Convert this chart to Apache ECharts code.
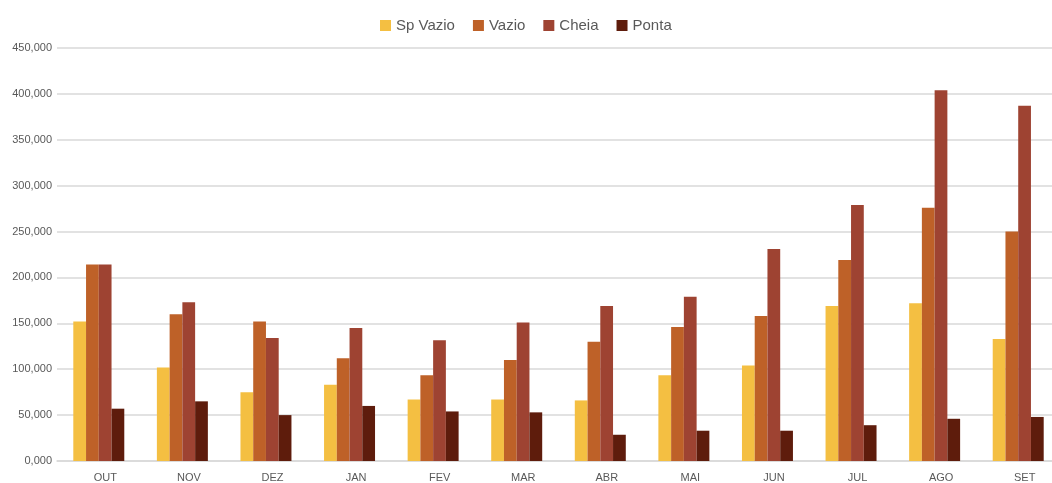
<!DOCTYPE html>
<html>
<head>
<meta charset="utf-8">
<script src="https://cdn.jsdelivr.net/npm/echarts@6/dist/echarts.min.js"></script>
<style>
html,body{margin:0;padding:0;background:#fff;overflow:hidden;width:1052px;height:483px;}
#chart{width:1072px;height:483px;}
</style>
</head>
<body>
<div id="chart"></div>
<script>
const categories = ['OUT','NOV','DEZ','JAN','FEV','MAR','ABR','MAI','JUN','JUL','AGO','SET'];
const seriesNames = ['Sp Vazio','Vazio','Cheia','Ponta'];
const spVazio = [152000,102000,75000,83000,67000,67000,66000,93500,104000,169000,172000,133000];
const vazio   = [214000,160000,152000,112000,93500,110000,130000,146000,158000,219000,276000,250000];
const cheia   = [214000,173000,134000,145000,131500,151000,169000,179000,231000,279000,404000,387000];
const ponta   = [57000,65000,50000,60000,54000,53000,28600,33000,33000,39000,46000,48000];
const colors = ['#F4BF42','#BE6128','#9E4332','#5E1C0C'];

function fmt(v){
  const th = Math.floor(v/1000);
  const rest = String(v % 1000).padStart(3,'0');
  return th + ',' + rest;
}

const chart = echarts.init(document.getElementById('chart'), null, {renderer:'canvas'});
const dataSets = [spVazio, vazio, cheia, ponta];
chart.setOption({
  animation:false,
  color: colors,
  legend:{
    top: 13,
    left: 375,
    itemWidth: 11,
    itemHeight: 11,
    itemGap: 18,
    icon: 'rect',
    textStyle:{fontFamily:'Liberation Sans', fontSize:15, color:'#595959'},
    data: seriesNames
  },
  grid:{left:57, top:48, width:1003, bottom:21, containLabel:false},
  xAxis:{
    type:'category',
    data: categories,
    axisLine:{lineStyle:{color:'#d9d9d9', width:1.5}},
    axisTick:{show:false},
    axisLabel:{fontFamily:'Liberation Sans', fontSize:11, color:'#595959', margin:11, padding:[0,0,0,13]}
  },
  yAxis:{
    type:'value',
    min:0, max:450000, interval:50000,
    axisLine:{show:false},
    axisTick:{show:false},
    splitLine:{lineStyle:{color:'#d9d9d9', width:1.5}},
    axisLabel:{fontFamily:'Liberation Sans', fontSize:11, color:'#595959', margin:5, formatter: fmt}
  },
  series: seriesNames.map((n,i)=>({
    name:n,
    type:'bar',
    data: dataSets[i],
    barGap:'0%',
    barCategoryGap:'39%',
    itemStyle:{color:colors[i]}
  }))
});
</script>
</body>
</html>
